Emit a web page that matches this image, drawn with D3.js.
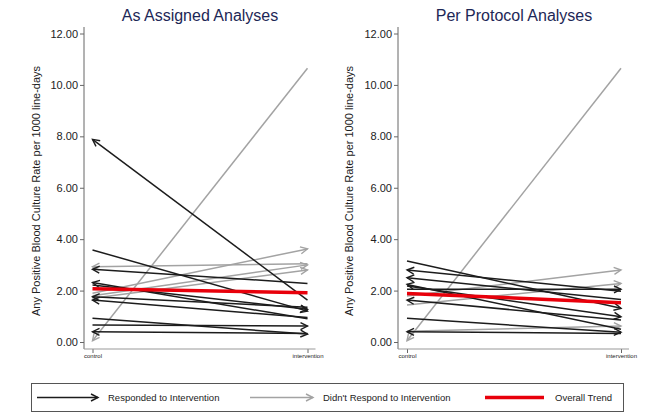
<!DOCTYPE html>
<html>
<head>
<meta charset="utf-8">
<script src="https://cdn.jsdelivr.net/npm/d3@7"></script>
<style>
  body { margin: 0; background: #fff; }
  svg { font-family: "Liberation Sans", Arial, Helvetica, sans-serif; display: block; }
  .axis text { fill: #222; }
</style>
</head>
<body>
<div id="chart"></div>
<script>
// categorias e ticks
const xCats = ['control', 'intervention'];
const yTicks = [0, 2, 4, 6, 8, 10, 12];

// As Assigned: valores control -> intervention
const assignedControl      = [7.88, 3.58, 2.83, 2.31, 2.22, 1.76, 1.63, 0.92, 0.66, 0.40, 0.05, 1.90, 2.93, 1.80, 1.70];
const assignedIntervention = [1.63, 1.20, 2.28, 0.90, 1.27, 1.35, 0.95, 0.31, 0.62, 0.33, 10.65, 3.62, 3.04, 3.00, 2.80];
const assignedGroup        = ['r','r','r','r','r','r','r','r','r','r','n','n','n','n','n'];
const assignedHead         = ['c','i','c','c','i','c','c','i','i','c','c','i','c','i','i'];
const assignedTrend        = [2.07, 1.92];

// Per Protocol
const protocolControl      = [3.15, 2.80, 2.50, 2.24, 2.18, 2.05, 1.63, 0.92, 0.40, 0.05, 1.79, 1.44, 0.42];
const protocolIntervention = [1.31, 1.97, 1.65, 0.50, 0.98, 2.05, 0.86, 0.38, 0.33, 10.65, 2.80, 2.28, 0.62];
const protocolGroup        = ['r','r','r','r','r','r','r','r','r','n','n','n','n'];
const protocolHead         = ['i','c','c','c','i','i','c','i','c','c','i','i','i'];
const protocolTrend        = [1.89, 1.53];

const legendLabels = ['Responded to Intervention', "Didn't Respond to Intervention", 'Overall Trend'];

const W = 645, H = 420;
const svg = d3.select('#chart').append('svg')
  .attr('width', W)
  .attr('height', H);

const colors = { r: '#1c1c1c', n: '#a3a3a3', trend: '#e8000b' };

// marcadores de seta (tipo chevron aberto)
const defs = svg.append('defs');
['r', 'n'].forEach(g => {
  defs.append('marker')
    .attr('id', 'arrow-' + g)
    .attr('viewBox', '-8 -5 10 10')
    .attr('refX', 0)
    .attr('refY', 0)
    .attr('markerWidth', 10)
    .attr('markerHeight', 10)
    .attr('markerUnits', 'userSpaceOnUse')
    .attr('orient', 'auto')
    .append('path')
    .attr('d', 'M-7,-3.5L0,0L-7,3.5')
    .attr('fill', 'none')
    .attr('stroke', colors[g])
    .attr('stroke-width', 1.4);
});

function renderPanel(opts) {
  const y = d3.scaleLinear().domain([0, 12]).range([342, 33.5]);
  const x = d3.scalePoint().domain(xCats).range([opts.x0, opts.x1]);

  const g = svg.append('g');

  // titulo
  g.append('text')
    .attr('x', opts.titleX)
    .attr('y', 21)
    .attr('text-anchor', 'middle')
    .attr('fill', '#1d2756')
    .style('font-size', '16px')
    .text(opts.title);

  // eixo Y
  const yAxis = g.append('g')
    .attr('class', 'axis')
    .attr('transform', `translate(${opts.axisX},0)`)
    .call(d3.axisLeft(y).tickValues(yTicks).tickFormat(d3.format('.2f')).tickSize(4).tickPadding(2));
  yAxis.select('.domain').remove();
  yAxis.selectAll('line').attr('stroke', '#666');
  yAxis.selectAll('text').style('font-size', '11px');
  g.append('line')
    .attr('x1', opts.axisX).attr('x2', opts.axisX)
    .attr('y1', 27).attr('y2', 349)
    .attr('stroke', '#666');

  g.append('text')
    .attr('transform', `translate(${opts.labelX},${191}) rotate(-90)`)
    .attr('text-anchor', 'middle')
    .attr('fill', '#222')
    .style('font-size', '11px')
    .text('Any Positive Blood Culture Rate per 1000 line-days');

  // eixo X
  const xAxis = g.append('g')
    .attr('class', 'axis')
    .attr('transform', 'translate(0,349)')
    .call(d3.axisBottom(x).tickSize(4).tickPadding(1));
  xAxis.select('.domain').remove();
  xAxis.selectAll('line').attr('stroke', '#666');
  xAxis.selectAll('text').style('font-size', '6px').attr('fill', '#444');
  g.append('line')
    .attr('x1', opts.axisX).attr('x2', opts.x1 + 8)
    .attr('y1', 349).attr('y2', 349)
    .attr('stroke', '#999');

  // linhas: primeiro as cinzas, depois as pretas
  const rows = opts.control.map((c, i) => ({
    c: c, iv: opts.intervention[i], grp: opts.group[i], head: opts.head[i]
  }));
  const order = rows.filter(d => d.grp === 'n').concat(rows.filter(d => d.grp === 'r'));

  g.selectAll('.pair')
    .data(order)
    .enter()
    .append('line')
    .attr('class', 'pair')
    .attr('x1', d => d.head === 'c' ? x('intervention') : x('control'))
    .attr('y1', d => d.head === 'c' ? y(d.iv) : y(d.c))
    .attr('x2', d => d.head === 'c' ? x('control') : x('intervention'))
    .attr('y2', d => d.head === 'c' ? y(d.c) : y(d.iv))
    .attr('stroke', d => colors[d.grp])
    .attr('stroke-width', 1.5)
    .attr('marker-end', d => `url(#arrow-${d.grp})`);

  // tendencia geral
  g.append('line')
    .attr('x1', x('control')).attr('y1', y(opts.trend[0]))
    .attr('x2', x('intervention')).attr('y2', y(opts.trend[1]))
    .attr('stroke', colors.trend)
    .attr('stroke-width', 3.5);
}

renderPanel({
  title: 'As Assigned Analyses', titleX: 200,
  axisX: 84, labelX: 40, x0: 92.5, x1: 307.5,
  control: assignedControl, intervention: assignedIntervention,
  group: assignedGroup, head: assignedHead, trend: assignedTrend
});

renderPanel({
  title: 'Per Protocol Analyses', titleX: 514,
  axisX: 398, labelX: 353, x0: 407, x1: 621,
  control: protocolControl, intervention: protocolIntervention,
  group: protocolGroup, head: protocolHead, trend: protocolTrend
});

// Legenda
const legend = svg.append('g');
legend.append('rect')
  .attr('x', 31.5).attr('y', 383.5)
  .attr('width', 592).attr('height', 28)
  .attr('fill', '#fff')
  .attr('stroke', '#555');

const ly = 397.5;
legend.append('line')
  .attr('x1', 37).attr('x2', 98).attr('y1', ly).attr('y2', ly)
  .attr('stroke', colors.r).attr('stroke-width', 1.5)
  .attr('marker-end', 'url(#arrow-r)');
legend.append('text')
  .attr('x', 108).attr('y', ly + 3.5)
  .style('font-size', '9.5px').attr('fill', '#222')
  .text(legendLabels[0]);

legend.append('line')
  .attr('x1', 250).attr('x2', 313).attr('y1', ly).attr('y2', ly)
  .attr('stroke', colors.n).attr('stroke-width', 1.5)
  .attr('marker-end', 'url(#arrow-n)');
legend.append('text')
  .attr('x', 323).attr('y', ly + 3.5)
  .style('font-size', '9.5px').attr('fill', '#222')
  .text(legendLabels[1]);

legend.append('line')
  .attr('x1', 485).attr('x2', 544).attr('y1', ly).attr('y2', ly)
  .attr('stroke', colors.trend).attr('stroke-width', 3.5);
legend.append('text')
  .attr('x', 555).attr('y', ly + 3.5)
  .style('font-size', '9.5px').attr('fill', '#222')
  .text(legendLabels[2]);
</script>
</body>
</html>
